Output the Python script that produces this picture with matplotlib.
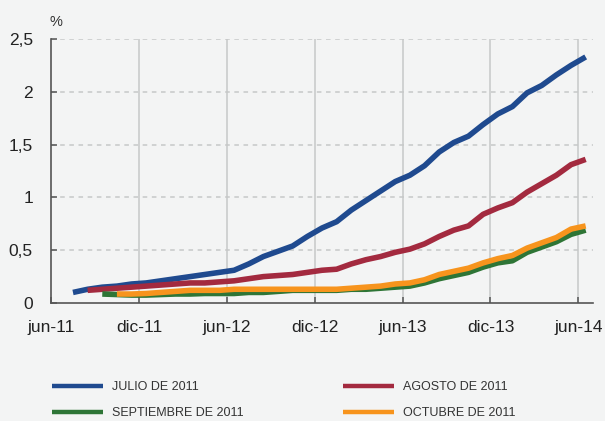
import matplotlib
matplotlib.use("Agg")
import matplotlib.pyplot as plt

# Months since jun-11 (point plotted mid-month)
tick_labels = ["jun-11", "dic-11", "jun-12", "dic-12", "jun-13", "dic-13", "jun-14"]
tick_months = [0, 6, 12, 18, 24, 30, 36]

julio_start = 1
julio = [0.10, 0.13, 0.15, 0.16, 0.18, 0.19, 0.21, 0.23, 0.25, 0.27, 0.29, 0.31,
         0.37, 0.44, 0.49, 0.54, 0.63, 0.71, 0.77, 0.88, 0.97, 1.06, 1.15, 1.21,
         1.30, 1.43, 1.52, 1.58, 1.69, 1.79, 1.86, 1.99, 2.06, 2.16, 2.25, 2.33]

agosto_start = 2
agosto = [0.12, 0.13, 0.14, 0.15, 0.16, 0.17, 0.18, 0.19, 0.19, 0.20, 0.21,
          0.23, 0.25, 0.26, 0.27, 0.29, 0.31, 0.32, 0.37, 0.41, 0.44, 0.48, 0.51,
          0.56, 0.63, 0.69, 0.73, 0.84, 0.90, 0.95, 1.05, 1.13, 1.21, 1.31, 1.36]

septiembre_start = 3
septiembre = [0.085, 0.08, 0.075, 0.075, 0.08, 0.085, 0.085, 0.09, 0.09, 0.09,
              0.10, 0.10, 0.11, 0.12, 0.12, 0.12, 0.12, 0.13, 0.13, 0.14, 0.15,
              0.16, 0.19, 0.23, 0.26, 0.29, 0.34, 0.38, 0.40, 0.48, 0.53, 0.58,
              0.65, 0.69]

octubre_start = 4
octubre = [0.085, 0.085, 0.09, 0.10, 0.11, 0.12, 0.12, 0.12, 0.13, 0.13, 0.13,
           0.13, 0.13, 0.13, 0.13, 0.13, 0.14, 0.15, 0.16, 0.18, 0.19, 0.22,
           0.27, 0.30, 0.33, 0.38, 0.42, 0.45, 0.52, 0.57, 0.62, 0.70, 0.73]

series = [
    ("JULIO DE 2011", julio_start, julio, "#1f4a8f"),
    ("AGOSTO DE 2011", agosto_start, agosto, "#a32a3f"),
    ("SEPTIEMBRE DE 2011", septiembre_start, septiembre, "#2e7536"),
    ("OCTUBRE DE 2011", octubre_start, octubre, "#f7941d"),
]

yticks = [0, 0.5, 1, 1.5, 2, 2.5]
ytick_labels = ["0", "0,5", "1", "1,5", "2", "2,5"]

bg = "#f3f4f4"
plt.rcParams["font.family"] = ["Liberation Sans", "DejaVu Sans"]

fig = plt.figure(figsize=(6.05, 4.21), dpi=100, facecolor=bg)
ax = fig.add_axes([51/605, 1-303/421, (593-51)/605, (303-39)/421])
ax.set_facecolor(bg)

for x in tick_months[1:]:
    ax.axvline(x, color="#cdcfcf", lw=1.3, zorder=1)
for y in yticks[1:]:
    ax.axhline(y, color="#c6c8c8", lw=1.1, ls=(0, (3, 3)), zorder=1)

handles = {}
for name, start, vals, col in series:
    xs = [start + i + 0.5 for i in range(len(vals))]
    ln, = ax.plot(xs, vals, color=col, lw=4.0, solid_capstyle="butt",
                  solid_joinstyle="round", zorder=3, label=name)
    handles[name] = ln

ax.set_xlim(0, 37)
ax.set_ylim(0, 2.5)
ax.set_xticks(tick_months)
ax.set_xticklabels(tick_labels)
ax.set_yticks(yticks)
ax.set_yticklabels(ytick_labels)

for s in ["top", "right"]:
    ax.spines[s].set_visible(False)
for s in ["left", "bottom"]:
    ax.spines[s].set_color("#555555")
    ax.spines[s].set_linewidth(1.2)
ax.tick_params(axis="both", direction="in", length=4, width=1.1, color="#555555",
               labelsize=12.5, labelcolor="#222222")
ax.tick_params(axis="x", pad=12)
ax.tick_params(axis="y", pad=13)

fig.text(50/605, 1-22/421, "%", fontsize=10.5, color="#333333", va="center", ha="left")

leg_kw = dict(loc="upper left", frameon=False, borderpad=0, borderaxespad=0,
              prop={"family": ["Liberation Sans", "DejaVu Sans"], "size": 9},
              handlelength=4.1, handletextpad=0.7, labelspacing=1.1,
              labelcolor="#333333")
leg1 = fig.legend([handles["JULIO DE 2011"], handles["SEPTIEMBRE DE 2011"]],
                  ["JULIO DE 2011", "SEPTIEMBRE DE 2011"],
                  bbox_to_anchor=(51.7/605, 1-381.5/421), **leg_kw)
leg2 = fig.legend([handles["AGOSTO DE 2011"], handles["OCTUBRE DE 2011"]],
                  ["AGOSTO DE 2011", "OCTUBRE DE 2011"],
                  bbox_to_anchor=(342.7/605, 1-381.5/421), **leg_kw)
for lg in (leg1, leg2):
    for h in lg.legend_handles:
        h.set_linewidth(3.2)

fig.savefig("out.png", dpi=100, facecolor=bg)
